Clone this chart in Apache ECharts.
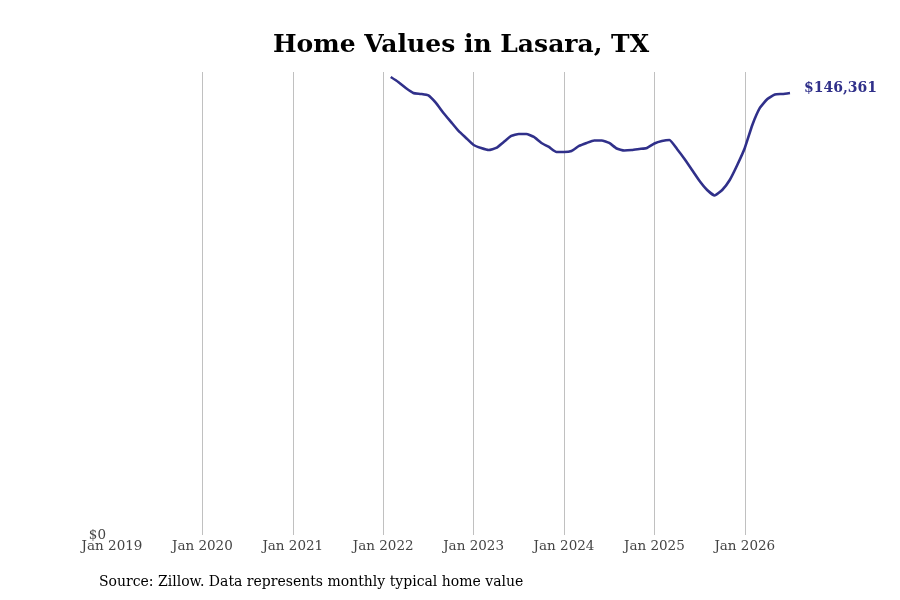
<!DOCTYPE html>
<html>
<head>
<meta charset="utf-8">
<script src="https://cdn.jsdelivr.net/npm/echarts@6/dist/echarts.min.js"></script>
<style>
  html, body { margin: 0; padding: 0; background: #fff; }
  #chart { width: 900px; height: 600px; }
</style>
</head>
<body>
<div id="chart"></div>
<script>
// monthly typical home value
const months = [
  '2022-02', '2022-03', '2022-04', '2022-05', '2022-06', '2022-07', '2022-08', '2022-09', '2022-10', '2022-11', '2022-12',
  '2023-01', '2023-02', '2023-03', '2023-04', '2023-05', '2023-06', '2023-07', '2023-08', '2023-09', '2023-10', '2023-11', '2023-12',
  '2024-01', '2024-02', '2024-03', '2024-04', '2024-05', '2024-06', '2024-07', '2024-08', '2024-09', '2024-10', '2024-11', '2024-12',
  '2025-01', '2025-02', '2025-03', '2025-04', '2025-05', '2025-06', '2025-07', '2025-08', '2025-09', '2025-10', '2025-11', '2025-12',
  '2026-01', '2026-02', '2026-03', '2026-04', '2026-05', '2026-06', '2026-07'
];
const homeValues = [
  151650, 150000, 148015, 146360, 146030, 145530, 143050, 139740, 136760, 133780, 131460,
  129140, 128150, 127480, 128150, 130130, 132120, 132780, 132780, 131790, 129800, 128480, 126820,
  126820, 127150, 128810, 129800, 130630, 130630, 129800, 127980, 127320, 127480, 127820, 128150,
  129640, 130460, 130800, 127820, 124500, 120860, 117220, 114240, 112420, 114240, 117550, 122520,
  128150, 135760, 141390, 144370, 145860, 146030, 146361
];
const startYear = 2019;
const tickYears = [2019, 2020, 2021, 2022, 2023, 2024, 2025, 2026];

const font = 'DejaVu Serif';
const lineColor = '#30308a';

// x as months since Jan 2019
const toIndex = s => {
  const [y, m] = s.split('-').map(Number);
  return (y - startYear) * 12 + (m - 1);
};
const seriesData = months.map((m, i) => [toIndex(m), homeValues[i]]);

const chart = echarts.init(document.getElementById('chart'));
chart.setOption({
  animation: false,
  graphic: [{
    type: 'text',
    x: 461,
    y: 45,
    style: {
      text: 'Home Values in Lasara, TX',
      font: 'bold 25px "DejaVu Serif"',
      fill: '#000',
      align: 'center',
      verticalAlign: 'middle'
    }
  }, {
    type: 'text',
    left: 99,
    top: 575,
    style: {
      text: 'Source: Zillow. Data represents monthly typical home value',
      font: '14px "DejaVu Serif"',
      fill: '#000'
    }
  }],
  grid: { left: 112, right: 110, top: 72, bottom: 65 },
  xAxis: {
    type: 'value',
    min: 0,
    max: 90,
    interval: 12,
    axisLine: { show: false },
    axisTick: { show: false },
    splitLine: {
      show: true,
      showMinLine: false,
      showMaxLine: false,
      lineStyle: { color: '#c0c0c0', width: 1 }
    },
    axisLabel: {
      fontFamily: font,
      fontSize: 13.5,
      color: '#444',
      margin: 4,
      showMaxLabel: false,
      formatter: v => (v % 12 === 0 && tickYears.includes(startYear + v / 12)) ? 'Jan ' + (startYear + v / 12) : ''
    }
  },
  yAxis: {
    type: 'value',
    min: 0,
    max: 153300,
    interval: 153300,
    axisLine: { show: false },
    axisTick: { show: false },
    splitLine: { show: false },
    axisLabel: {
      fontFamily: font,
      fontSize: 13.5,
      color: '#444',
      margin: 6,
      padding: [4, 0, 0, 0],
      showMaxLabel: false,
      formatter: v => '$' + v
    }
  },
  series: [{
    type: 'line',
    data: seriesData,
    showSymbol: false,
    smooth: 0.15,
    lineStyle: { color: lineColor, width: 2.6 },
    endLabel: {
      show: true,
      distance: 14,
      offset: [0, -5],
      formatter: p => '$' + p.value[1].toLocaleString('en-US'),
      fontFamily: font,
      fontSize: 14,
      fontWeight: 'bold',
      color: lineColor
    }
  }]
});
</script>
</body>
</html>
